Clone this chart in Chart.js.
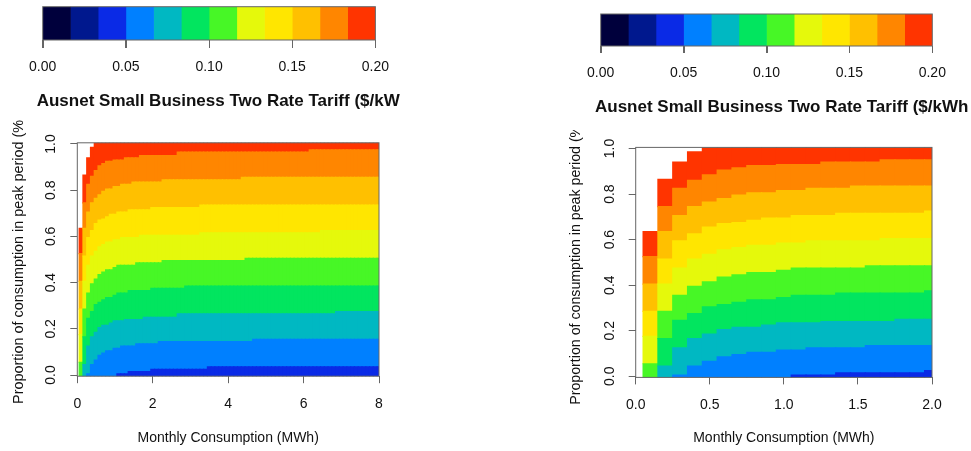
<!DOCTYPE html>
<html>
<head>
<meta charset="utf-8">
<script src="https://cdn.jsdelivr.net/npm/chart.js@4.4.1/dist/chart.umd.min.js"></script>
<style>
  html, body { margin: 0; padding: 0; background: #fff; }
  #page { position: relative; width: 971px; height: 451px; overflow: hidden; }
  canvas { position: absolute; }
</style>
</head>
<body>
<div id="page">
  <canvas id="cb-left" width="400" height="120" style="left:0;top:0"></canvas>
  <canvas id="plot-left" width="400" height="331" style="left:0;top:120px"></canvas>
  <canvas id="cb-right" width="411" height="130" style="left:560px;top:0"></canvas>
  <canvas id="plot-right" width="411" height="321" style="left:560px;top:130px"></canvas>
</div>
<script>
// Monthly consumption (MWh), one image column per value
const consumption = [
  0.1, 0.2, 0.3, 0.4, 0.5, 0.6, 0.7, 0.8, 0.9, 1.0,
  1.1, 1.2, 1.3, 1.4, 1.5, 1.6, 1.7, 1.8, 1.9, 2.0,
  2.1, 2.2, 2.3, 2.4, 2.5, 2.6, 2.7, 2.8, 2.9, 3.0,
  3.1, 3.2, 3.3, 3.4, 3.5, 3.6, 3.7, 3.8, 3.9, 4.0,
  4.1, 4.2, 4.3, 4.4, 4.5, 4.6, 4.7, 4.8, 4.9, 5.0,
  5.1, 5.2, 5.3, 5.4, 5.5, 5.6, 5.7, 5.8, 5.9, 6.0,
  6.1, 6.2, 6.3, 6.4, 6.5, 6.6, 6.7, 6.8, 6.9, 7.0,
  7.1, 7.2, 7.3, 7.4, 7.5, 7.6, 7.7, 7.8, 7.9, 8.0
];
const xTicksLeft = [0, 2, 4, 6, 8];
const xTicksRight = [0, 0.5, 1, 1.5, 2];
const yTicks = [0, 0.2, 0.4, 0.6, 0.8, 1];
const cbTicks = [0, 0.05, 0.1, 0.15, 0.2];

// tariff breaks ($/kWh) and the colour of each band
const levels = [0, 0.01667, 0.03333, 0.05, 0.06667, 0.08333, 0.1, 0.11667, 0.13333, 0.15, 0.16667, 0.18333, 0.2];
const levelColors = ['#00003c', '#00188e', '#0a2ae6', '#0080ff', '#00b8c2', '#02e55f',
                     '#47f726', '#e5f90b', '#ffe600', '#ffc000', '#ff8600', '#ff3400'];

// top edge of each colour band: [from consumption, proportion in peak]
const darkNavyTop = [[0.1, -0.005]];
const navyTop = [[0.1, -0.005]];
const blueTop = [[0.1, -0.005], [1.1, 0.005], [1.4, 0.015], [2.0, 0.025], [3.5, 0.035]];
const lightBlueTop = [[0.1, -0.005], [0.3, 0.005], [0.4, 0.045], [0.5, 0.065], [0.6, 0.085], [0.7, 0.095],
  [0.8, 0.105], [1.0, 0.115], [1.2, 0.125], [1.6, 0.135], [2.2, 0.145], [4.7, 0.155]];
const tealTop = [[0.1, -0.005], [0.2, 0.045], [0.3, 0.125], [0.4, 0.165], [0.5, 0.185], [0.6, 0.205], [0.7, 0.215],
  [0.9, 0.225], [1.0, 0.235], [1.3, 0.24], [1.8, 0.25], [2.7, 0.265], [6.9, 0.275]];
const greenTop = [[0.1, -0.005], [0.2, 0.165], [0.3, 0.245], [0.4, 0.275], [0.5, 0.305], [0.6, 0.315], [0.7, 0.325],
  [0.8, 0.335], [1.0, 0.345], [1.1, 0.355], [1.4, 0.365], [2.0, 0.375], [2.9, 0.385]];
const limeTop = [[0.1, 0.055], [0.2, 0.285], [0.3, 0.355], [0.4, 0.395], [0.5, 0.415], [0.6, 0.435], [0.7, 0.445],
  [0.8, 0.455], [1.0, 0.465], [1.1, 0.475], [1.6, 0.485], [2.3, 0.495], [4.5, 0.505]];
const yellowGreenTop = [[0.1, 0.175], [0.2, 0.405], [0.3, 0.475], [0.4, 0.515], [0.5, 0.535], [0.6, 0.555], [0.7, 0.565],
  [0.8, 0.575], [1.0, 0.585], [1.2, 0.595], [1.7, 0.605], [3.3, 0.615], [6.5, 0.625]];
const yellowTop = [[0.1, 0.285], [0.2, 0.515], [0.3, 0.595], [0.4, 0.625], [0.5, 0.655], [0.6, 0.67], [0.7, 0.675],
  [0.8, 0.685], [0.9, 0.695], [1.1, 0.705], [1.4, 0.715], [2.0, 0.725], [3.3, 0.735]];
const goldTop = [[0.1, 0.405], [0.2, 0.635], [0.3, 0.705], [0.4, 0.745], [0.5, 0.765], [0.6, 0.78], [0.7, 0.795],
  [0.8, 0.805], [1.0, 0.815], [1.2, 0.825], [1.5, 0.835], [2.3, 0.845], [4.4, 0.855]];
const orangeTop = [[0.1, 0.525], [0.2, 0.745], [0.3, 0.825], [0.4, 0.86], [0.5, 0.885], [0.6, 0.905], [0.7, 0.915],
  [0.8, 0.925], [1.0, 0.93], [1.3, 0.94], [1.7, 0.95], [2.7, 0.965], [6.2, 0.975]];
const redTop = [[0.1, 0.635], [0.2, 0.865], [0.3, 0.94], [0.4, 0.985], [0.5, 1.005]];

const bandTops = [darkNavyTop, navyTop, blueTop, lightBlueTop, tealTop, greenTop,
                  limeTop, yellowGreenTop, yellowTop, goldTop, orangeTop, redTop];
const P_MIN = -0.005, P_MAX = 1.005;
const TITLE = 'Ausnet Small Business Two Rate Tariff ($/kWh';

Chart.defaults.font.family = '"Liberation Sans", Arial, Helvetica, sans-serif';
Chart.defaults.color = '#111';
const LINE = '#666';

function stepAt(steps, x) {
  let v = steps[0][1];
  for (const [x0, p] of steps) if (x >= x0 - 1e-9) v = p;
  return v;
}

function bandDatasets(xMax) {
  const cols = consumption.filter((x) => x <= xMax + 1e-9);
  return levelColors.map((color, k) => {
    const data = [];
    for (const x of cols) {
      const lo = k === 0 ? P_MIN : stepAt(bandTops[k - 1], x);
      const hi = stepAt(bandTops[k], x);
      if (hi > lo) data.push({ x, y: [lo, hi] });
    }
    return {
      label: levels[k].toFixed(3) + '–' + levels[k + 1].toFixed(3), data,
      backgroundColor: color, borderWidth: 0, grouped: false,
      barPercentage: 1, categoryPercentage: 1, inflateAmount: 0.6, clip: 0,
    };
  });
}

// box round the chart area, like R's box()
const boxPlugin = {
  id: 'box',
  afterDraw(chart) {
    const { ctx, chartArea: a } = chart;
    ctx.save();
    ctx.strokeStyle = LINE; ctx.lineWidth = 1;
    ctx.strokeRect(a.left, a.top, a.right - a.left, a.bottom - a.top);
    ctx.restore();
  },
};

// tick marks under the colour bar, placed by the x scale
const cbTickPlugin = (len) => ({
  id: 'cbTicks',
  afterDraw(chart) {
    const { ctx, chartArea: a, scales: { x } } = chart;
    ctx.save();
    ctx.strokeStyle = LINE; ctx.lineWidth = 1;
    ctx.beginPath();
    for (const v of cbTicks) {
      const px = Math.round(x.getPixelForValue(v)) + 0.5;
      ctx.moveTo(px, a.bottom); ctx.lineTo(px, a.bottom + len);
    }
    ctx.stroke();
    ctx.restore();
  },
});

function titlePlugin(x, y) {
  return {
    id: 'cbTitle',
    afterDraw(chart) {
      const ctx = chart.ctx;
      ctx.save();
      ctx.font = 'bold 17px "Liberation Sans", Arial, sans-serif';
      ctx.fillStyle = '#111'; ctx.textAlign = 'left'; ctx.textBaseline = 'middle';
      ctx.fillText(TITLE, x, y);
      ctx.restore();
    },
  };
}

function colorBar(id, pad, axisH, tickLen, tickPad, tx, ty) {
  new Chart(document.getElementById(id), {
    type: 'bar',
    data: {
      labels: [''],
      datasets: levelColors.map((c, k) => ({
        data: [[levels[k], levels[k + 1]]], backgroundColor: c, borderWidth: 0,
        grouped: false, barPercentage: 1, categoryPercentage: 1,
      })),
    },
    options: {
      indexAxis: 'y', responsive: false, animation: false,
      layout: { padding: pad },
      plugins: { legend: { display: false }, tooltip: { enabled: false } },
      scales: {
        y: { display: false },
        x: {
          type: 'linear', min: 0, max: 0.2, offset: false,
          afterBuildTicks: (s) => { s.ticks = cbTicks.map((v) => ({ value: v })); },
          afterFit: (s) => { s.height = axisH; },
          ticks: { font: { size: 14 }, padding: tickPad, maxRotation: 0, autoSkip: false,
                   callback: (v) => v.toFixed(2) },
          grid: { display: true, drawTicks: true, drawOnChartArea: false, tickLength: tickLen, color: LINE },
          border: { display: false },
        },
      },
    },
    plugins: [boxPlugin, cbTickPlugin(tickLen), titlePlugin(tx, ty)],
  });
}

function plot(id, xMax, xTicks, xDigits, g) {
  new Chart(document.getElementById(id), {
    type: 'bar',
    data: { datasets: bandDatasets(xMax) },
    options: {
      responsive: false, animation: false,
      layout: { padding: g.pad },
      plugins: { legend: { display: false }, tooltip: { enabled: false } },
      scales: {
        x: {
          type: 'linear', min: 0, max: xMax, offset: false,
          afterBuildTicks: (s) => { s.ticks = xTicks.map((v) => ({ value: v })); },
          afterFit: (s) => { s.height = g.xH; },
          ticks: { font: { size: 14 }, padding: g.xTickPad, maxRotation: 0, autoSkip: false,
                   callback: (v) => v.toFixed(xDigits) },
          grid: { drawOnChartArea: false, tickLength: 7, color: LINE, offset: false },
          border: { display: false },
          title: { display: true, text: 'Monthly Consumption (MWh)', font: { size: 14 },
                   color: '#111', padding: { top: 0, bottom: g.xTitlePad } },
        },
        y: {
          type: 'linear', min: P_MIN, max: P_MAX,
          afterBuildTicks: (s) => { s.ticks = yTicks.map((v) => ({ value: v })); },
          afterFit: (s) => { s.width = g.yW; },
          ticks: { font: { size: 14 }, padding: g.yTickPad, minRotation: 90, maxRotation: 90,
                   crossAlign: 'center', autoSkip: false, callback: (v) => v.toFixed(1) },
          grid: { drawOnChartArea: false, tickLength: 7, color: LINE },
          border: { display: false },
          title: { display: true, text: 'Proportion of consumption in peak period (%)', font: { size: g.yTitleSize },
                   color: '#111', padding: { top: g.yTitlePad, bottom: 0 } },
        },
      },
    },
    plugins: [boxPlugin],
  });
}

colorBar('cb-left', { left: 42.7, right: 21, top: 6.7, bottom: 0 }, 80, 8, 11, 36.7, 101);
colorBar('cb-right', { left: 40.7, right: 38.7, top: 14, bottom: 0 }, 84, 7, 12, 35, 107.7);

plot('plot-left', 8, xTicksLeft, 0, {
  pad: { left: 0, right: 21, top: 22.8, bottom: 0 },
  xH: 74.8, yW: 77.3, xTickPad: 13, xTitlePad: 4.6, yTickPad: 9.5, yTitlePad: 10, yTitleSize: 14.4,
});
plot('plot-right', 2, xTicksRight, 1, {
  pad: { left: 0, right: 39, top: 17.2, bottom: 0 },
  xH: 73.6, yW: 75.7, xTickPad: 12.5, xTitlePad: 4.4, yTickPad: 9, yTitlePad: 7.6, yTitleSize: 14.2,
});
</script>
</body>
</html>
